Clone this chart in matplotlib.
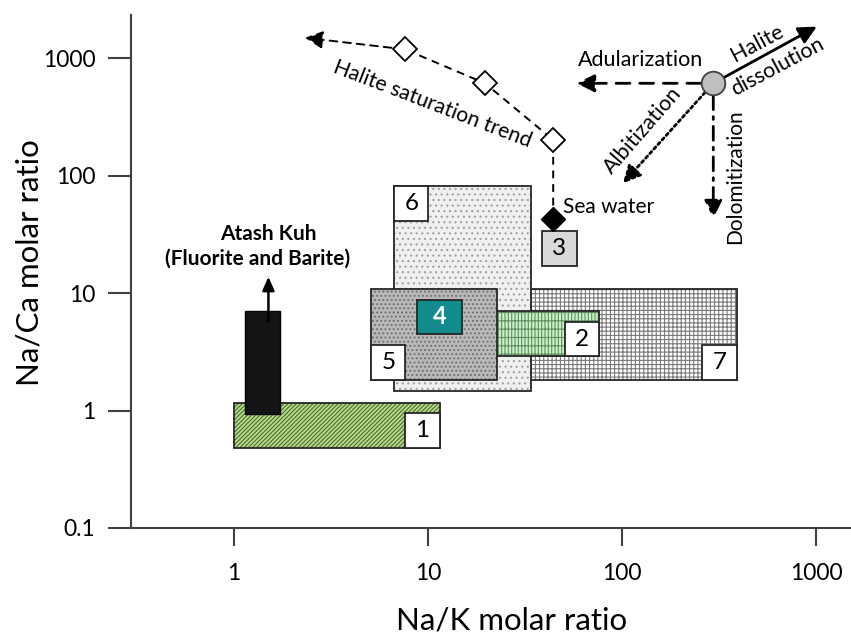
import numpy as np
import matplotlib
matplotlib.use("Agg")
import matplotlib.pyplot as plt
from matplotlib.patches import Rectangle

plt.rcParams['font.family'] = ['Lato', 'DejaVu Sans']
plt.rcParams['hatch.linewidth'] = 0.8

# regions (Na/K range, Na/Ca range)
box_ids = ['1', '2', '4', '5', '6', '7']
box_x = {'1': (1.0, 11.5), '2': (15.0, 76.0), '4': (8.8, 15.0),
         '5': (5.1, 22.6), '6': (6.7, 34.0), '7': (30.0, 390.0)}
box_y = {'1': (0.48, 1.17), '2': (2.9, 7.0), '4': (4.5, 8.75),
         '5': (1.82, 10.9), '6': (1.47, 82.0), '7': (1.82, 10.9)}
# corner where the number tag sits
tag_corner = {'1': 'br', '2': 'br', '5': 'bl', '6': 'tl', '7': 'br'}

box3_x = (38.7, 58.4)
box3_y = (17.1, 33.9)

# Atash Kuh (fluorite and barite)
atash_x = (1.14, 1.73)
atash_y = (0.93, 7.05)
atash_arrow = (1.51, 5.7, 13.8)

# halite saturation trend
seawater = (44.2, 42.8)
trend_x = [44.2, 19.7, 7.62]
trend_y = [202, 614, 1195]
trend_end = (2.33, 1500)

# process arrows from the grey circle
center = (295, 614)
proc_tips = {'halite': (1006, 1866), 'adular': (58.4, 614),
             'albit': (101, 86.3), 'dolom': (295, 43.5)}
proc_styles = {'halite': '-', 'adular': (0, (5, 3.5)),
               'albit': (0, (1, 1.2)), 'dolom': (0, (5, 2.5, 1, 2.5))}

xticks = [1, 10, 100, 1000]
yticks = [0.1, 1, 10, 100, 1000]

fig = plt.figure(figsize=(8.51, 6.34), dpi=100)
ax = fig.add_axes([131/851, (634-528)/634, 1-131/851, (528-15)/634])
ax.set_xscale('log')
ax.set_yscale('log')
ax.set_xlim(0.296, 1510)
ax.set_ylim(0.1, 2344)

edge = '#262626'


def region(xr, yr, face, hatch, hcol, z):
    ax.add_patch(Rectangle((xr[0], yr[0]), xr[1]-xr[0], yr[1]-yr[0],
                           facecolor=face, edgecolor=hcol, hatch=hatch,
                           lw=0, zorder=z))
    ax.add_patch(Rectangle((xr[0], yr[0]), xr[1]-xr[0], yr[1]-yr[0],
                           fill=False, edgecolor=edge, lw=1.3, zorder=z))


styles = {'7': ('white', '++++', '#7a7a7a', 2),
          '6': ('#f0f0f0', '...', '#a0a0a0', 3),
          '2': ('#c9f0c9', '|||||--', '#5f915f', 4),
          '5': ('#b8b8b8', '....', '#6a6a6a', 5),
          '4': ('#118b8b', '', '#118b8b', 6),
          '1': ('#b8dc8c', '////////', '#4a6b2e', 3)}

for b in box_ids:
    face, hatch, hcol, z = styles[b]
    region(box_x[b], box_y[b], face, hatch, hcol, z)

# number tags (fixed size in log units)
tw, th = 10**0.177, 10**0.295
for b, c in tag_corner.items():
    x0, x1 = box_x[b]
    y0, y1 = box_y[b]
    tx = (x1/tw, x1) if c[1] == 'r' else (x0, x0*tw)
    ty = (y0, y0*th) if c[0] == 'b' else (y1/th, y1)
    z = styles[b][3] + 0.5
    ax.add_patch(Rectangle((tx[0], ty[0]), tx[1]-tx[0], ty[1]-ty[0],
                           facecolor='white', edgecolor=edge, lw=1.3, zorder=z))
    ax.text(np.sqrt(tx[0]*tx[1]), np.sqrt(ty[0]*ty[1]), b, ha='center',
            va='center', fontsize=17.5, zorder=z+0.1)

ax.text(np.sqrt(box_x['4'][0]*box_x['4'][1]), np.sqrt(box_y['4'][0]*box_y['4'][1]),
        '4', ha='center', va='center', fontsize=17, fontweight='bold',
        color='white', zorder=7)

# box 3
ax.add_patch(Rectangle((box3_x[0], box3_y[0]), box3_x[1]-box3_x[0],
                       box3_y[1]-box3_y[0], facecolor='#d9d9d9',
                       edgecolor=edge, lw=1.3, zorder=5))
ax.text(np.sqrt(box3_x[0]*box3_x[1]), np.sqrt(box3_y[0]*box3_y[1]), '3',
        ha='center', va='center', fontsize=17.5, zorder=6)

# Atash Kuh bar
ax.add_patch(Rectangle((atash_x[0], atash_y[0]), atash_x[1]-atash_x[0],
                       atash_y[1]-atash_y[0], facecolor='#141414',
                       edgecolor='#000000', lw=1, zorder=6))
ax.annotate('', xy=(atash_arrow[0], atash_arrow[2]),
            xytext=(atash_arrow[0], atash_arrow[1]),
            arrowprops=dict(arrowstyle='-|>,head_length=0.45,head_width=0.2',
                            color='black', lw=1.8, mutation_scale=18,
                            shrinkA=0, shrinkB=0), zorder=7)
ax.text(1.50, 32.0, 'Atash Kuh', ha='center', va='center', fontsize=15,
        fontweight='bold')
ax.text(1.32, 19.8, '(Fluorite and Barite)', ha='center', va='center',
        fontsize=15, fontweight='bold')

# halite saturation trend
ax.plot([seawater[0]] + trend_x, [seawater[1]] + trend_y, color='black',
        lw=1.4, ls=(0, (4, 3)), zorder=8)
ax.annotate('', xy=trend_end, xytext=(trend_x[-1], trend_y[-1]),
            arrowprops=dict(arrowstyle='-|>,head_length=0.6,head_width=0.3',
                            color='black', lw=1.4, ls=(0, (4, 3)),
                            mutation_scale=18, shrinkA=0, shrinkB=0), zorder=8)
ax.plot(trend_x, trend_y, ls='none', marker='D', ms=12, mfc='white',
        mec='black', mew=1.3, zorder=9)
ax.plot(*seawater, marker='D', ms=12, color='black', zorder=9)
ax.text(49.7, 54.2, 'Sea water', ha='left', va='center', fontsize=15)
ax.text(10.5, 409, 'Halite saturation trend', ha='center', va='center',
        fontsize=15.2, rotation=-21, rotation_mode='anchor')

# process arrows
for k, tip in proc_tips.items():
    ax.annotate('', xy=tip, xytext=center,
                arrowprops=dict(arrowstyle='-|>,head_length=0.6,head_width=0.3',
                                color='black', lw=2, ls=proc_styles[k],
                                mutation_scale=18, shrinkA=9, shrinkB=0),
                zorder=8)
ax.plot(*center, marker='o', ms=17, mfc='#bfbfbf', mec='#404040', mew=1.3,
        zorder=10)
ax.text(125, 970, 'Adularization', ha='center', va='center', fontsize=15.5)
ax.text(494, 1352, 'Halite', ha='center', va='center', fontsize=15.5,
        rotation=28, rotation_mode='anchor')
ax.text(635, 845, 'dissolution', ha='center', va='center', fontsize=15.5,
        rotation=28, rotation_mode='anchor')
ax.text(128, 245, 'Albitization', ha='center', va='center', fontsize=15.5,
        rotation=49, rotation_mode='anchor')
ax.text(382, 97.7, 'Dolomitization', ha='center', va='center', fontsize=15,
        rotation=90, rotation_mode='anchor')

# axes styling
for s in ['top', 'right']:
    ax.spines[s].set_visible(False)
for s in ['left', 'bottom']:
    ax.spines[s].set_color('#404040')
    ax.spines[s].set_linewidth(1.5)
ax.minorticks_off()
ax.set_xticks(xticks)
ax.set_xticklabels([str(v) for v in xticks])
ax.set_yticks(yticks)
ax.set_yticklabels([str(v) for v in yticks])
ax.tick_params(axis='x', length=13, width=1.5, color='#404040', pad=12,
               labelsize=16.5)
ax.tick_params(axis='y', length=16.5, width=1.5, color='#404040', pad=9,
               labelsize=16.5)
ax.set_xlabel('Na/K molar ratio', fontsize=22.5)
ax.set_ylabel('Na/Ca molar ratio', fontsize=22.5)
ax.xaxis.set_label_coords(0.528, -0.153)
ax.yaxis.set_label_coords(-0.122, 0.517)

fig.savefig('out.png', dpi=100)
